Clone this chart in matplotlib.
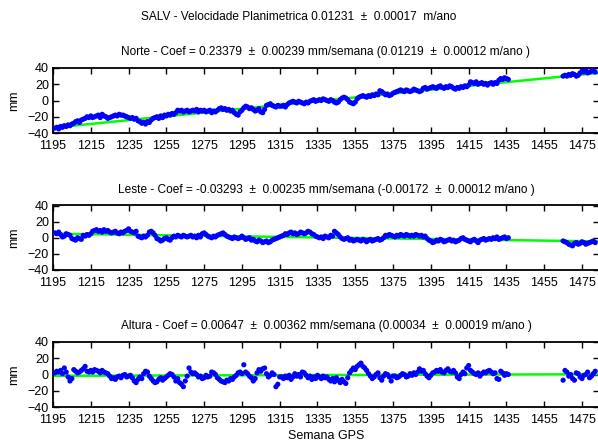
import numpy as np
import matplotlib
matplotlib.use("Agg")
import matplotlib.pyplot as plt

plt.rcParams['font.family'] = ['Liberation Sans', 'DejaVu Sans']

# GPS weeks
weeks_a = list(range(1196, 1437))
weeks_b = list(range(1465, 1483))

norte_a = [
    -34, -33, -35, -32, -33, -31, -32, -30, -31, -29,
    -28, -26, -25, -27, -24, -23, -22, -20, -21, -19,
    -21, -20, -19, -18, -21, -17, -19, -20, -22, -21,
    -20, -19, -18, -19, -17, -18, -18, -19, -20, -21,
    -22, -21, -23, -22, -25, -26, -28, -27, -29, -26,
    -27, -24, -22, -21, -20, -22, -19, -21, -18, -19,
    -17, -18, -16, -17, -15, -12, -13, -12, -14, -13,
    -12, -14, -13, -12, -13, -11, -14, -12, -13, -12,
    -14, -13, -12, -15, -13, -14, -12, -10, -9, -11,
    -10, -12, -11, -13, -12, -15, -17, -18, -14, -12,
    -9, -7, -8, -10, -9, -11, -13, -12, -10, -14,
    -15, -11, -6, -5, -4, -6, -7, -8, -6, -7,
    -7, -6, -8, -5, -3, -2, -1, -2, -3, -1,
    -2, -3, -4, -2, -3, -1, 0, 1, -1, 0,
    1, 0, 2, 1, 0, -1, 1, 0, -2, -3,
    -2, 1, 3, 4, 3, 1, -2, -3, -4, -2,
    2, 4, 5, 6, 5, 4, 6, 5, 7, 6,
    8, 7, 12, 11, 9, 7, 8, 6, 7, 9,
    10, 11, 12, 13, 12, 11, 13, 12, 11, 12,
    14, 13, 12, 11, 12, 15, 16, 14, 15, 16,
    17, 16, 15, 17, 18, 16, 15, 17, 16, 18,
    17, 15, 14, 16, 15, 17, 16, 18, 17, 19,
    23, 22, 21, 23, 20, 21, 22, 20, 21, 19,
    21, 22, 20, 22, 21, 25, 27, 26, 28, 27,
    26,
]
norte_b = [30, 31, 30, 32, 31, 33, 32, 30, 31, 34, 36, 35, 37, 34, 35, 36, 37, 35]

leste_a = [
    6, 5, 7, 4, 1, 2, 5, 4, 3, -1,
    -2, -3, 0, -1, -2, 3, 2, 4, 3, 5,
    8, 9, 10, 8, 9, 7, 10, 8, 9, 7,
    6, 7, 8, 6, 5, 7, 6, 8, 9, 11,
    8, 7, 6, 8, 2, 1, 0, 2, 1, 3,
    7, 8, 6, 3, -1, -2, -4, -3, -1, 0,
    -2, -3, 0, 2, 1, 3, 2, 1, 3, 2,
    1, 2, 3, 1, 2, 0, 3, 1, 5, 6,
    4, 2, 1, 0, 2, 1, 3, 4, 5, 6,
    4, 2, 1, 0, -1, 1, 0, -1, 0, 2,
    0, -2, -1, 0, -3, -2, -4, -5, -3, -4,
    -6, -5, -4, -6, -5, -3, -2, -1, 0, 1,
    2, 3, 5, 4, 6, 7, 5, 6, 4, 5,
    7, 6, 5, 6, 8, 7, 5, 4, 2, 1,
    0, 1, -1, 2, 1, 0, 3, 2, 8, 6,
    4, 1, -1, -2, -1, 0, -3, -2, -4, -3,
    -2, -3, -4, -2, -3, -5, -3, -2, -4, -3,
    -2, -1, -3, -2, 0, 3, 2, 4, 3, 2,
    1, 3, 2, 4, 3, 2, 4, 3, 2, 3,
    2, 4, 3, 2, 3, 1, 2, -1, -3, -4,
    -6, -5, -3, -4, -2, -3, -5, -4, -3, -2,
    -4, -3, -5, -4, -3, -1, 0, -2, -3, -4,
    -5, -3, -2, -4, -6, -3, -2, -1, -3, -2,
    -1, -2, 0, -1, 1, -2, -1, 0, 1, -1,
    0,
]
leste_b = [-4, -5, -6, -8, -9, -10, -7, -6, -8, -7, -5, -6, -8, -7, -6, -5, -4, -6]

altura_a = [
    2, 4, 3, 5, 1, 8, 3, -3, -8, -5,
    6, 4, 2, 3, 5, 7, 10, 4, 3, 5,
    3, 6, 5, 4, 2, 5, 3, 2, 1, -2,
    -5, -4, -6, -3, -2, -4, -1, 0, -3, -2,
    -1, -4, -8, -10, -6, -3, -5, 1, 4, 3,
    -2, -5, -8, -10, -9, -6, -4, -7, -5, -3,
    -1, 1, 0, -3, -8, -5, -10, -12, -15, -8,
    -2, 8, 3, 1, 2, 0, -3, -2, -5, -4,
    -1, -3, -2, 3, 2, 0, -4, -6, -8, -9,
    -10, -7, -8, -5, -6, -3, -1, 2, 3, 1,
    12, 3, 1, -2, -4, -8, -5, 2, 6, 4,
    7, 8, 1, -3, -1, 2, 0, -15, -12, -3,
    -3, -5, -2, -4, -1, -6, -3, 1, -2, 0,
    -3, 3, 2, -1, -4, -2, -6, -3, -5, -1,
    -3, -5, -2, -4, -3, -6, -8, -5, -9, -4,
    -7, -10, -6, -9, -11, -4, 2, 5, 8, 6,
    10, 12, 14, 10, 8, 5, 1, -2, -5, -3,
    0, 2, -4, -7, -2, 1, 0, -3, -8, -2,
    -2, -4, -3, -1, 1, 0, -3, -2, 1, -1,
    2, 0, 3, 7, 4, 5, 1, -2, -4, -1,
    2, 3, 5, 4, 6, 3, 2, 5, 7, 4,
    3, 5, 2, -3, -5, 0, 3, 1, 8, 11,
    5, 3, 1, 0, 2, -2, 1, 3, 2, 4,
    5, 3, 1, 2, -5, -6, 4, 2, -1, 1,
    0,
]
altura_b = [-7, 5, 3, -2, 0, -5, -7, 2, 1, -3, -5, -1, 0, 3, -4, -2, 1, 4]

# fitted trend lines (end points)
trend_weeks = [1195, 1484]
norte_trend = [-33.5, 34.0]
leste_trend = [5.0, -4.5]
altura_trend = [-1.6, 0.3]

titles = [
    "Norte - Coef = 0.23379  \u00b1  0.00239 mm/semana (0.01219  \u00b1  0.00012 m/ano )",
    "Leste - Coef = -0.03293  \u00b1  0.00235 mm/semana (-0.00172  \u00b1  0.00012 m/ano )",
    "Altura - Coef = 0.00647  \u00b1  0.00362 mm/semana (0.00034  \u00b1  0.00019 m/ano )",
]
suptitle = "SALV - Velocidade Planimetrica 0.01231  \u00b1  0.00017  m/ano"
xticks = list(range(1195, 1476, 20))
yticks = [-40, -20, 0, 20, 40]

series = [(norte_a, norte_b, norte_trend),
          (leste_a, leste_b, leste_trend),
          (altura_a, altura_b, altura_trend)]

W, H = 598, 442
fig = plt.figure(figsize=(W / 100, H / 100), dpi=100)

panels_px = [(68, 133), (205.5, 270), (342, 407)]
left_px, right_px = 53, 599

for i, ((top, bot), (ya, yb, tr)) in enumerate(zip(panels_px, series)):
    ax = fig.add_axes([left_px / W, 1 - bot / H, (right_px - left_px) / W, (bot - top) / H])
    ax.plot(trend_weeks, tr, color='#00ff00', lw=1.8, zorder=2)
    ax.scatter(weeks_a, ya, s=14, color='#0000ff', edgecolors='none', zorder=3)
    ax.scatter(weeks_b, yb, s=14, color='#0000ff', edgecolors='none', zorder=3)
    ax.set_xlim(1195, 1484)
    ax.set_ylim(-40, 40)
    ax.set_xticks(xticks)
    ax.set_yticks(yticks)
    ax.set_xticklabels([str(t) for t in xticks])
    ax.tick_params(direction='in', length=4, width=1, top=True, right=True,
                   labelsize=9)
    ax.tick_params(axis='x', pad=5)
    ax.tick_params(axis='y', pad=3)
    for sp in ax.spines.values():
        sp.set_linewidth(1.3)
    ax.set_ylabel('mm', fontsize=9, labelpad=5)
    ax.set_title(titles[i], fontsize=8.6, pad=9)
    if i == 2:
        ax.set_xlabel('Semana GPS', fontsize=9, labelpad=3)

fig.text(0.5, 1 - 17 / H, suptitle, ha='center', va='center', fontsize=8.6)

fig.savefig('out.png', dpi=100)
